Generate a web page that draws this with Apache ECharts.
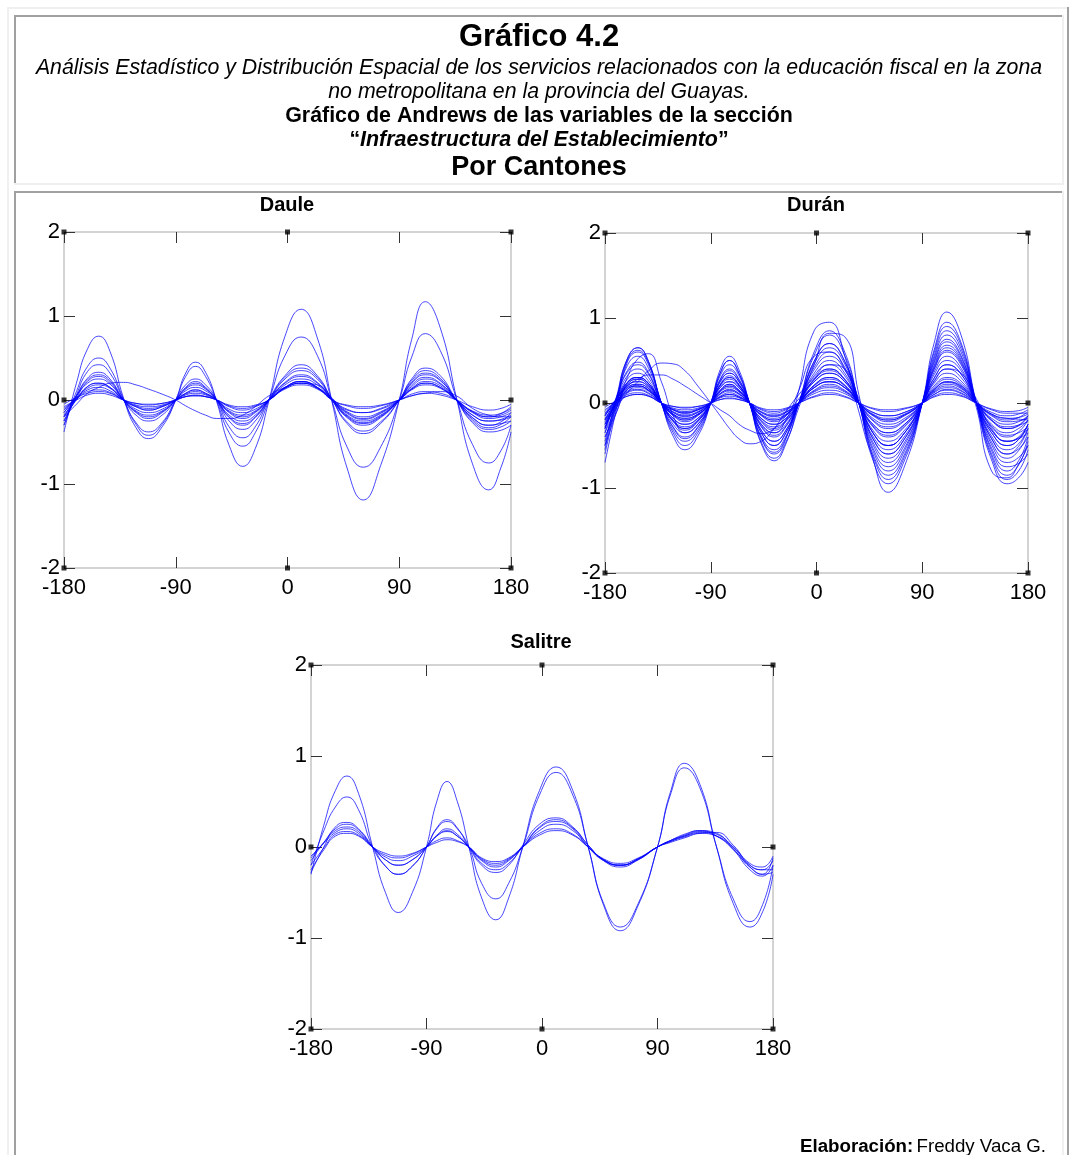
<!DOCTYPE html>
<html><head><meta charset="utf-8">
<script src="https://cdn.jsdelivr.net/npm/echarts@6/dist/echarts.min.js"></script>
<style>html,body{margin:0;padding:0;background:#fff}#c{width:1069px;height:1155px}</style>
</head><body><div id="c"></div>
<script>
// angle samples (degrees) shared by all curves
const tDeg = [-180,-170,-161,-152,-143,-132,-122,-112,-101,-90,-82,-74,-66,-57,-47,-36,-26,-15,-2,11,24,36,48,61,75,90,100,111,123,136,149,162,172,180];
const xTicks = [-180,-90,0,90,180];
const yTicks = [-2,-1,0,1,2];
const panelNames = ['Daule','Durán','Salitre'];

const daule = [
[-0.38,0.2,0.61,0.76,0.58,0.02,-0.33,-0.46,-0.32,0,0.32,0.45,0.33,-0.02,-0.54,-0.79,-0.58,-0.01,0.76,1.08,0.74,-0.03,-0.81,-1.19,-0.78,0,0.72,1.17,0.86,0.03,-0.76,-1.07,-0.8,-0.38],
[-0.3,0.1,0.4,0.5,0.38,0.01,-0.29,-0.42,-0.29,0,0.28,0.4,0.28,-0.01,-0.39,-0.55,-0.39,0,0.53,0.75,0.53,-0.02,-0.56,-0.8,-0.56,0,0.51,0.79,0.59,0.02,-0.53,-0.75,-0.6,-0.3],
[-0.3,0.06,0.34,0.42,0.32,0,-0.27,-0.38,-0.27,0,0.18,0.25,0.18,0,-0.32,-0.45,-0.32,0,0.29,0.42,0.29,0,-0.28,-0.4,-0.28,0,0.25,0.38,0.29,0,-0.27,-0.38,-0.36,-0.3],
[-0.25,0.04,0.26,0.33,0.25,0,-0.18,-0.25,-0.18,0,0.15,0.22,0.15,0,-0.25,-0.35,-0.25,0,0.27,0.38,0.27,0,-0.26,-0.37,-0.26,0,0.23,0.35,0.26,0,-0.25,-0.35,-0.32,-0.25],
[-0.2,0.05,0.24,0.3,0.23,0,-0.15,-0.22,-0.15,0,0.14,0.2,0.14,0,-0.21,-0.3,-0.21,0,0.25,0.35,0.25,0,-0.21,-0.3,-0.21,0,0.2,0.3,0.23,0,-0.23,-0.33,-0.29,-0.2],
[-0.15,0.05,0.2,0.25,0.19,0,-0.13,-0.18,-0.13,0,0.11,0.15,0.11,0,-0.18,-0.25,-0.18,0,0.21,0.3,0.21,0,-0.19,-0.27,-0.19,0,0.18,0.27,0.2,0,-0.21,-0.3,-0.26,-0.15],
[-0.2,0,0.16,0.2,0.15,0,-0.11,-0.15,-0.11,0,0.08,0.12,0.08,0,-0.14,-0.2,-0.14,0,0.18,0.25,0.18,0,-0.18,-0.25,-0.18,0,0.16,0.25,0.19,0,-0.18,-0.25,-0.24,-0.2],
[-0.15,0.02,0.14,0.18,0.14,0,-0.08,-0.12,-0.08,0,0.07,0.1,0.07,0,-0.13,-0.18,-0.13,0,0.15,0.22,0.15,0,-0.15,-0.22,-0.15,0,0.14,0.22,0.17,0,-0.15,-0.22,-0.2,-0.15],
[-0.12,0.02,0.12,0.15,0.11,0,-0.07,-0.1,-0.07,0,0.06,0.08,0.06,0,-0.11,-0.15,-0.11,0,0.14,0.2,0.14,0,-0.14,-0.2,-0.14,0,0.13,0.2,0.15,0,-0.14,-0.2,-0.18,-0.12],
[-0.1,0.01,0.1,0.12,0.09,0,-0.06,-0.08,-0.06,0,0.04,0.06,0.04,0,-0.08,-0.12,-0.08,0,0.13,0.18,0.13,0,-0.11,-0.15,-0.11,0,0.12,0.18,0.14,0,-0.13,-0.18,-0.16,-0.1],
[-0.18,0.01,0.16,0.2,0.15,0,-0.08,-0.12,-0.08,0,0.08,0.12,0.08,0,-0.15,-0.22,-0.15,0,0.15,0.22,0.15,0,-0.2,-0.28,-0.2,0,0.13,0.2,0.15,0,-0.18,-0.25,-0.23,-0.18],
[-0.08,0,0.06,0.08,0.06,0,-0.04,-0.06,-0.04,0,0.04,0.05,0.04,0,-0.07,-0.1,-0.07,0,0.14,0.2,0.14,0,-0.07,-0.1,-0.07,0,0.07,0.1,0.08,0,-0.14,-0.2,-0.16,-0.08],
[-0.2,-0.05,0.08,0.15,0.2,0.21,0.18,0.13,0.07,0,-0.07,-0.13,-0.18,-0.22,-0.22,-0.18,-0.08,0.05,0.15,0.2,0.18,0.02,-0.12,-0.15,-0.1,0,0.05,0.08,0.1,0.05,-0.1,-0.18,-0.2,-0.2],
[-0.25,0.02,0.22,0.28,0.21,0,-0.14,-0.2,-0.14,0,0.13,0.18,0.13,0,-0.2,-0.28,-0.2,0,0.2,0.28,0.2,0,-0.16,-0.23,-0.16,0,0.21,0.32,0.24,0,-0.21,-0.3,-0.28,-0.25],
[-0.05,0.03,0.08,0.1,0.08,0,-0.04,-0.05,-0.04,0,0.04,0.05,0.04,0,-0.06,-0.08,-0.06,0,0.15,0.22,0.15,0,-0.06,-0.08,-0.06,0,0.05,0.08,0.06,0,-0.08,-0.12,-0.1,-0.05]
];

const duran = [
[-0.7,-0.05,0.48,0.6,0.45,0,-0.39,-0.55,-0.39,0,0.39,0.55,0.39,0,-0.46,-0.65,-0.46,-0.05,0.45,0.82,0.78,0.1,-0.65,-1.05,-0.74,0,0.7,1.07,0.8,0,-0.67,-0.95,-0.88,-0.7],
[-0.55,0.05,0.52,0.65,0.49,0,-0.35,-0.5,-0.35,0,0.35,0.5,0.35,0,-0.42,-0.6,-0.42,0.15,0.85,0.95,0.55,-0.1,-0.63,-0.9,-0.63,0,0.62,0.95,0.71,0,-0.63,-0.9,-0.8,-0.55],
[-0.45,0.05,0.44,0.55,0.41,0,-0.32,-0.45,-0.32,0,0.32,0.45,0.32,0,-0.39,-0.55,-0.39,0,0.6,0.85,0.6,0,-0.6,-0.85,-0.6,0,0.55,0.85,0.64,0,-0.6,-0.85,-0.73,-0.45],
[-0.6,0.01,0.5,0.62,0.47,0,-0.28,-0.4,-0.28,0,0.27,0.38,0.27,0,-0.48,-0.68,-0.48,0,0.56,0.8,0.56,0,-0.56,-0.8,-0.56,0,0.52,0.8,0.6,0,-0.53,-0.75,-0.71,-0.6],
[-0.4,-0.05,0.3,0.52,0.58,0.25,-0.15,-0.35,-0.25,0,0.35,0.5,0.35,0,-0.35,-0.5,-0.35,0,0.49,0.7,0.49,0,-0.49,-0.7,-0.49,0,0.47,0.72,0.54,0,-0.56,-0.8,-0.68,-0.4],
[-0.35,0.07,0.38,0.48,0.36,0,-0.21,-0.3,-0.21,0,0.25,0.35,0.25,0,-0.32,-0.45,-0.32,0,0.46,0.65,0.46,0,-0.42,-0.6,-0.42,0,0.42,0.65,0.49,0,-0.46,-0.65,-0.56,-0.35],
[-0.3,0.08,0.36,0.45,0.34,0,-0.22,-0.32,-0.22,0,0.21,0.3,0.21,0,-0.28,-0.4,-0.28,0,0.42,0.6,0.42,0,-0.39,-0.55,-0.39,0,0.39,0.6,0.45,0,-0.42,-0.6,-0.51,-0.3],
[-0.5,0.08,0.52,0.65,0.49,0,-0.29,-0.42,-0.29,0,0.28,0.4,0.28,0,-0.41,-0.58,-0.41,0,0.39,0.55,0.39,0,-0.46,-0.65,-0.46,0,0.44,0.68,0.51,-0.05,-0.8,-0.88,-0.72,-0.5],
[-0.3,0.03,0.28,0.35,0.26,0,-0.18,-0.25,-0.18,0,0.2,0.28,0.2,0,-0.25,-0.35,-0.25,0,0.35,0.5,0.35,0,-0.35,-0.5,-0.35,0,0.36,0.55,0.41,0,-0.39,-0.55,-0.48,-0.3],
[-0.25,0.03,0.24,0.3,0.23,0,-0.2,-0.28,-0.2,0,0.18,0.25,0.18,0,-0.21,-0.3,-0.21,0,0.32,0.45,0.32,0,-0.32,-0.45,-0.32,0,0.33,0.5,0.38,0,-0.35,-0.5,-0.43,-0.25],
[-0.35,-0.04,0.22,0.28,0.21,0,-0.15,-0.22,-0.15,0,0.15,0.22,0.15,0,-0.22,-0.32,-0.22,0,0.28,0.4,0.28,0,-0.28,-0.4,-0.28,0,0.29,0.45,0.34,0,-0.32,-0.45,-0.42,-0.35],
[-0.2,0.05,0.24,0.3,0.23,0,-0.14,-0.2,-0.14,0,0.14,0.2,0.14,0,-0.2,-0.28,-0.2,0,0.27,0.38,0.27,0,-0.25,-0.35,-0.25,0,0.26,0.4,0.3,0,-0.28,-0.4,-0.34,-0.2],
[-0.28,-0.02,0.2,0.25,0.19,0,-0.13,-0.18,-0.13,0,0.18,0.25,0.18,0,-0.18,-0.25,-0.18,0,0.25,0.35,0.25,0,-0.27,-0.38,-0.27,0,0.23,0.35,0.26,0,-0.27,-0.38,-0.35,-0.28],
[-0.2,0.01,0.18,0.22,0.17,0,-0.11,-0.15,-0.11,0,0.13,0.18,0.13,0,-0.15,-0.22,-0.15,0,0.21,0.3,0.21,0,-0.21,-0.3,-0.21,0,0.2,0.3,0.23,0,-0.25,-0.35,-0.3,-0.2],
[-0.15,0.05,0.2,0.25,0.19,0,-0.08,-0.12,-0.08,0,0.11,0.15,0.11,0,-0.14,-0.2,-0.14,0,0.21,0.3,0.21,0,-0.18,-0.25,-0.18,0,0.18,0.28,0.21,0,-0.21,-0.3,-0.26,-0.15],
[-0.22,-0.01,0.16,0.2,0.15,0,-0.13,-0.18,-0.13,0,0.14,0.2,0.14,0,-0.18,-0.25,-0.18,0,0.18,0.25,0.18,0,-0.2,-0.28,-0.2,0,0.16,0.25,0.19,0,-0.2,-0.28,-0.26,-0.22],
[-0.15,0.02,0.14,0.18,0.14,0,-0.08,-0.12,-0.08,0,0.08,0.12,0.08,0,-0.13,-0.18,-0.13,0,0.15,0.22,0.15,0,-0.14,-0.2,-0.14,0,0.14,0.22,0.17,0,-0.18,-0.25,-0.22,-0.15],
[-0.1,0.03,0.12,0.15,0.11,0,-0.07,-0.1,-0.07,0,0.07,0.1,0.07,0,-0.11,-0.15,-0.11,0,0.14,0.2,0.14,0,-0.13,-0.18,-0.13,0,0.12,0.18,0.14,0,-0.14,-0.2,-0.17,-0.1],
[-0.08,0.02,0.1,0.12,0.09,0,-0.06,-0.08,-0.06,0,0.06,0.08,0.06,0,-0.08,-0.12,-0.08,0,0.11,0.15,0.11,0,-0.11,-0.15,-0.11,0,0.1,0.15,0.11,0,-0.11,-0.15,-0.13,-0.08],
[-0.12,-0.01,0.08,0.1,0.08,0,-0.04,-0.06,-0.04,0,0.04,0.06,0.04,0,-0.07,-0.1,-0.07,0,0.08,0.12,0.08,0,-0.07,-0.1,-0.07,0,0.08,0.12,0.09,0,-0.08,-0.12,-0.12,-0.12],
[-0.18,0.01,0.16,0.2,0.15,0,-0.1,-0.14,-0.1,0,0.1,0.14,0.1,0,-0.14,-0.2,-0.14,0,0.18,0.25,0.18,0,-0.15,-0.22,-0.15,0,0.13,0.2,0.15,0,-0.15,-0.22,-0.21,-0.18],
[-0.05,0.03,0.08,0.1,0.08,0,-0.04,-0.05,-0.04,0,0.04,0.05,0.04,0,-0.06,-0.08,-0.06,0,0.07,0.1,0.07,0,-0.06,-0.08,-0.06,0,0.07,0.1,0.08,0,-0.07,-0.1,-0.09,-0.05],
[-0.2,-0.02,0.13,0.16,0.12,0,-0.08,-0.11,-0.08,0,0.07,0.1,0.07,0,-0.11,-0.16,-0.11,0,0.13,0.18,0.13,0,-0.11,-0.15,-0.11,0,0.1,0.16,0.12,0,-0.13,-0.18,-0.19,-0.2],
[-0.13,0.05,0.18,0.22,0.17,0,-0.11,-0.16,-0.11,0,0.11,0.16,0.11,0,-0.1,-0.14,-0.1,0,0.2,0.28,0.2,0,-0.14,-0.2,-0.14,0,0.16,0.24,0.18,0,-0.13,-0.18,-0.17,-0.13],
[-0.25,-0.05,0.12,0.25,0.38,0.47,0.46,0.38,0.2,0,-0.15,-0.3,-0.42,-0.48,-0.45,-0.3,-0.1,0.1,0.3,0.45,0.4,0.05,-0.35,-0.5,-0.35,0,0.25,0.4,0.35,0.05,-0.3,-0.45,-0.4,-0.25],
[-0.15,0.05,0.2,0.28,0.33,0.33,0.28,0.2,0.1,0,-0.08,-0.15,-0.25,-0.32,-0.36,-0.3,-0.15,0.05,0.25,0.35,0.25,0,-0.25,-0.35,-0.25,0,0.15,0.25,0.2,0.02,-0.2,-0.3,-0.27,-0.15],
[-0.5,-0.1,0.24,0.3,0.23,0,-0.18,-0.25,-0.18,0,0.21,0.3,0.21,0,-0.32,-0.45,-0.32,0,0.49,0.7,0.49,0,-0.67,-0.95,-0.67,0,0.59,0.9,0.68,0,-0.49,-0.7,-0.64,-0.5],
[-0.4,-0.1,0.16,0.2,0.15,0,-0.14,-0.2,-0.14,0,0.15,0.22,0.15,0,-0.25,-0.35,-0.2,0.15,0.55,0.6,0.4,0,-0.53,-0.75,-0.53,0,0.49,0.75,0.56,0,-0.42,-0.6,-0.54,-0.4],
[-0.3,0.05,0.32,0.4,0.3,0,-0.25,-0.35,-0.25,0,0.25,0.35,0.25,0,-0.35,-0.5,-0.35,0,0.28,0.4,0.28,0,-0.35,-0.5,-0.35,0,0.29,0.45,0.34,0,-0.32,-0.45,-0.41,-0.3],
[-0.25,0.02,0.22,0.28,0.21,0,-0.21,-0.3,-0.21,0,0.22,0.32,0.22,0,-0.27,-0.38,-0.27,0,0.18,0.25,0.18,0,-0.42,-0.6,-0.42,0,0.4,0.62,0.47,0,-0.35,-0.5,-0.43,-0.25]
];

const salitre = [
[-0.3,0.24,0.62,0.78,0.59,0,-0.5,-0.72,-0.5,0,0.5,0.72,0.5,0,-0.56,-0.8,-0.56,0,0.62,0.88,0.62,0,-0.64,-0.92,-0.64,0,0.6,0.92,0.69,0,-0.62,-0.88,-0.71,-0.3],
[-0.2,0.18,0.44,0.55,0.41,0,-0.21,-0.3,-0.21,0,0.2,0.28,0.2,0,-0.4,-0.57,-0.4,0,0.57,0.82,0.57,0,-0.62,-0.88,-0.62,0,0.57,0.87,0.65,0,-0.57,-0.82,-0.63,-0.2],
[-0.28,0,0.22,0.27,0.2,0,-0.21,-0.3,-0.21,0,0.21,0.3,0.21,0,-0.2,-0.28,-0.2,0.02,0.25,0.32,0.22,0.02,-0.14,-0.2,-0.13,0,0.07,0.13,0.18,0.15,-0.02,-0.22,-0.3,-0.28],
[-0.15,0.05,0.2,0.25,0.19,0,-0.14,-0.2,-0.14,0,0.13,0.2,0.14,0,-0.18,-0.25,-0.18,0,0.22,0.3,0.21,0.02,-0.15,-0.22,-0.14,0,0.06,0.12,0.17,0.14,0,-0.2,-0.25,-0.15],
[-0.12,0.05,0.18,0.22,0.17,0,-0.11,-0.15,-0.1,0,0.12,0.18,0.12,0,-0.15,-0.22,-0.15,0,0.18,0.25,0.18,0,-0.14,-0.2,-0.13,0,0.07,0.12,0.16,0.12,-0.02,-0.22,-0.3,-0.12],
[-0.1,0.04,0.16,0.2,0.15,0,-0.09,-0.12,-0.08,0,0.07,0.1,0.07,0,-0.13,-0.18,-0.13,0,0.15,0.2,0.14,0,-0.13,-0.18,-0.12,0,0.06,0.11,0.15,0.12,0,-0.18,-0.22,-0.1],
[-0.25,-0.03,0.12,0.15,0.12,0,-0.07,-0.1,-0.07,0,0.05,0.08,0.06,0,-0.12,-0.16,-0.12,0,0.13,0.18,0.13,0,-0.14,-0.2,-0.13,0,0.05,0.1,0.15,0.16,0.02,-0.2,-0.25,-0.25],
[-0.2,-0.01,0.14,0.17,0.13,0,-0.14,-0.2,-0.14,0,0.12,0.17,0.12,0,-0.14,-0.2,-0.14,0,0.21,0.28,0.2,0,-0.15,-0.2,-0.14,0,0.07,0.14,0.18,0.12,-0.03,-0.25,-0.32,-0.2]
];

// MATLAB-style black square markers on the axes box
const boxMarks = [[-180,2],[0,2],[180,2],[-180,0],[180,0],[-180,-2],[0,-2],[180,-2]];

const FONT = '"Liberation Sans", Arial, Helvetica, sans-serif';
const panels = [
  {data: daule,   grid: {left: 64,  top: 232, width: 447, height: 336}, tx: 287, ty: 205},
  {data: duran,   grid: {left: 605, top: 233, width: 423, height: 340}, tx: 816, ty: 205},
  {data: salitre, grid: {left: 311, top: 665, width: 462, height: 364}, tx: 541, ty: 642}
];

const grids = [], xAxes = [], yAxes = [], series = [];
panels.forEach((p, i) => {
  grids.push(Object.assign({show: true, borderColor: '#a8a8a8', borderWidth: 1, backgroundColor: 'transparent', containLabel: false}, p.grid));
  const tick = {show: true, inside: true, length: 11, lineStyle: {color: '#333', width: 1}};
  const xb = {type: 'value', gridIndex: i, min: xTicks[0], max: xTicks[xTicks.length-1], interval: 90, position: 'bottom',
    axisLine: {show: false, onZero: false}, axisTick: tick, splitLine: {show: false},
    axisLabel: {fontSize: 22, color: '#000', margin: 9, fontFamily: FONT}};
  xAxes.push(xb);
  xAxes.push(Object.assign({}, xb, {position: 'top', axisLabel: {show: false}}));
  const yl = {type: 'value', gridIndex: i, min: yTicks[0], max: yTicks[yTicks.length-1], interval: 1, position: 'left',
    axisLine: {show: false, onZero: false}, axisTick: tick, splitLine: {show: false},
    axisLabel: {fontSize: 22, color: '#000', margin: 4, fontFamily: FONT}};
  yAxes.push(yl);
  yAxes.push(Object.assign({}, yl, {position: 'right', axisLabel: {show: false}}));
  p.data.forEach((curve, k) => {
    series.push({
      type: 'line', xAxisIndex: 2*i, yAxisIndex: 2*i, name: panelNames[i] + ' ' + (k+1),
      data: tDeg.map((t, j) => [t, curve[j]]),
      smooth: 0.5, showSymbol: false, symbol: 'none', silent: true, animation: false,
      lineStyle: {color: '#0000ff', width: 1, opacity: 0.72}
    });
  });
  series.push({
    type: 'scatter', xAxisIndex: 2*i, yAxisIndex: 2*i, data: boxMarks, symbol: 'rect', symbolSize: 5,
    itemStyle: {color: '#000'}, clip: false, silent: true, z: 10, animation: false
  });
});

function bar(x, y, w, h, c) { return {type: 'rect', shape: {x, y, width: w, height: h}, style: {fill: c}, silent: true}; }
function txt(x, y, text, font, align, extra) {
  return Object.assign({type: 'text', x, y, silent: true,
    style: {text, font, fill: '#000', textAlign: align || 'center', textVerticalAlign: 'middle'}}, extra || {});
}
const DARK = '#a0a0a0', LIGHT = '#f0f0f0';
const graphics = [
  // outer table border
  bar(7, 7, 1062, 2, LIGHT), bar(7, 7, 2, 1148, LIGHT), bar(1067, 7, 2, 1148, DARK),
  // header cell
  bar(14, 15, 1050, 2, DARK), bar(14, 15, 2, 170, DARK), bar(1062, 15, 2, 170, LIGHT), bar(14, 183, 1050, 2, LIGHT),
  // charts cell
  bar(14, 191, 1050, 2, DARK), bar(14, 191, 2, 964, DARK), bar(1062, 191, 2, 964, LIGHT),
  txt(539, 37, 'Gráfico 4.2', 'bold 31px ' + FONT),
  txt(539, 68, 'Análisis Estadístico y Distribución Espacial de los servicios relacionados con la educación fiscal en la zona', 'italic 21.3px ' + FONT),
  txt(539, 92, 'no metropolitana en la provincia del Guayas.', 'italic 21.3px ' + FONT),
  txt(539, 116, 'Gráfico de Andrews de las variables de la sección', 'bold 21.4px ' + FONT),
  {type: 'text', x: 539, y: 140, silent: true, style: {
    text: '{q|“}{i|Infraestructura del Establecimiento}{q|”}', textAlign: 'center', textVerticalAlign: 'middle',
    rich: {q: {font: 'bold 21.4px ' + FONT, fill: '#000'}, i: {font: 'italic bold 21.4px ' + FONT, fill: '#000'}}}},
  txt(539, 168, 'Por Cantones', 'bold 27px ' + FONT),
  {type: 'text', x: 1046, y: 1147, silent: true, style: {
    text: '{b|Elaboración:} {n|Freddy Vaca G.}', textAlign: 'right', textVerticalAlign: 'middle',
    rich: {b: {font: 'bold 18.7px ' + FONT, fill: '#000'}, n: {font: '18.7px ' + FONT, fill: '#000'}}}}
];
panels.forEach((p, i) => graphics.push(txt(p.tx, p.ty, panelNames[i], 'bold 20px ' + FONT)));

const chart = echarts.init(document.getElementById('c'), null, {renderer: 'canvas'});
chart.setOption({
  animation: false,
  backgroundColor: '#fff',
  grid: grids, xAxis: xAxes, yAxis: yAxes, series: series,
  graphic: graphics
});
</script></body></html>
